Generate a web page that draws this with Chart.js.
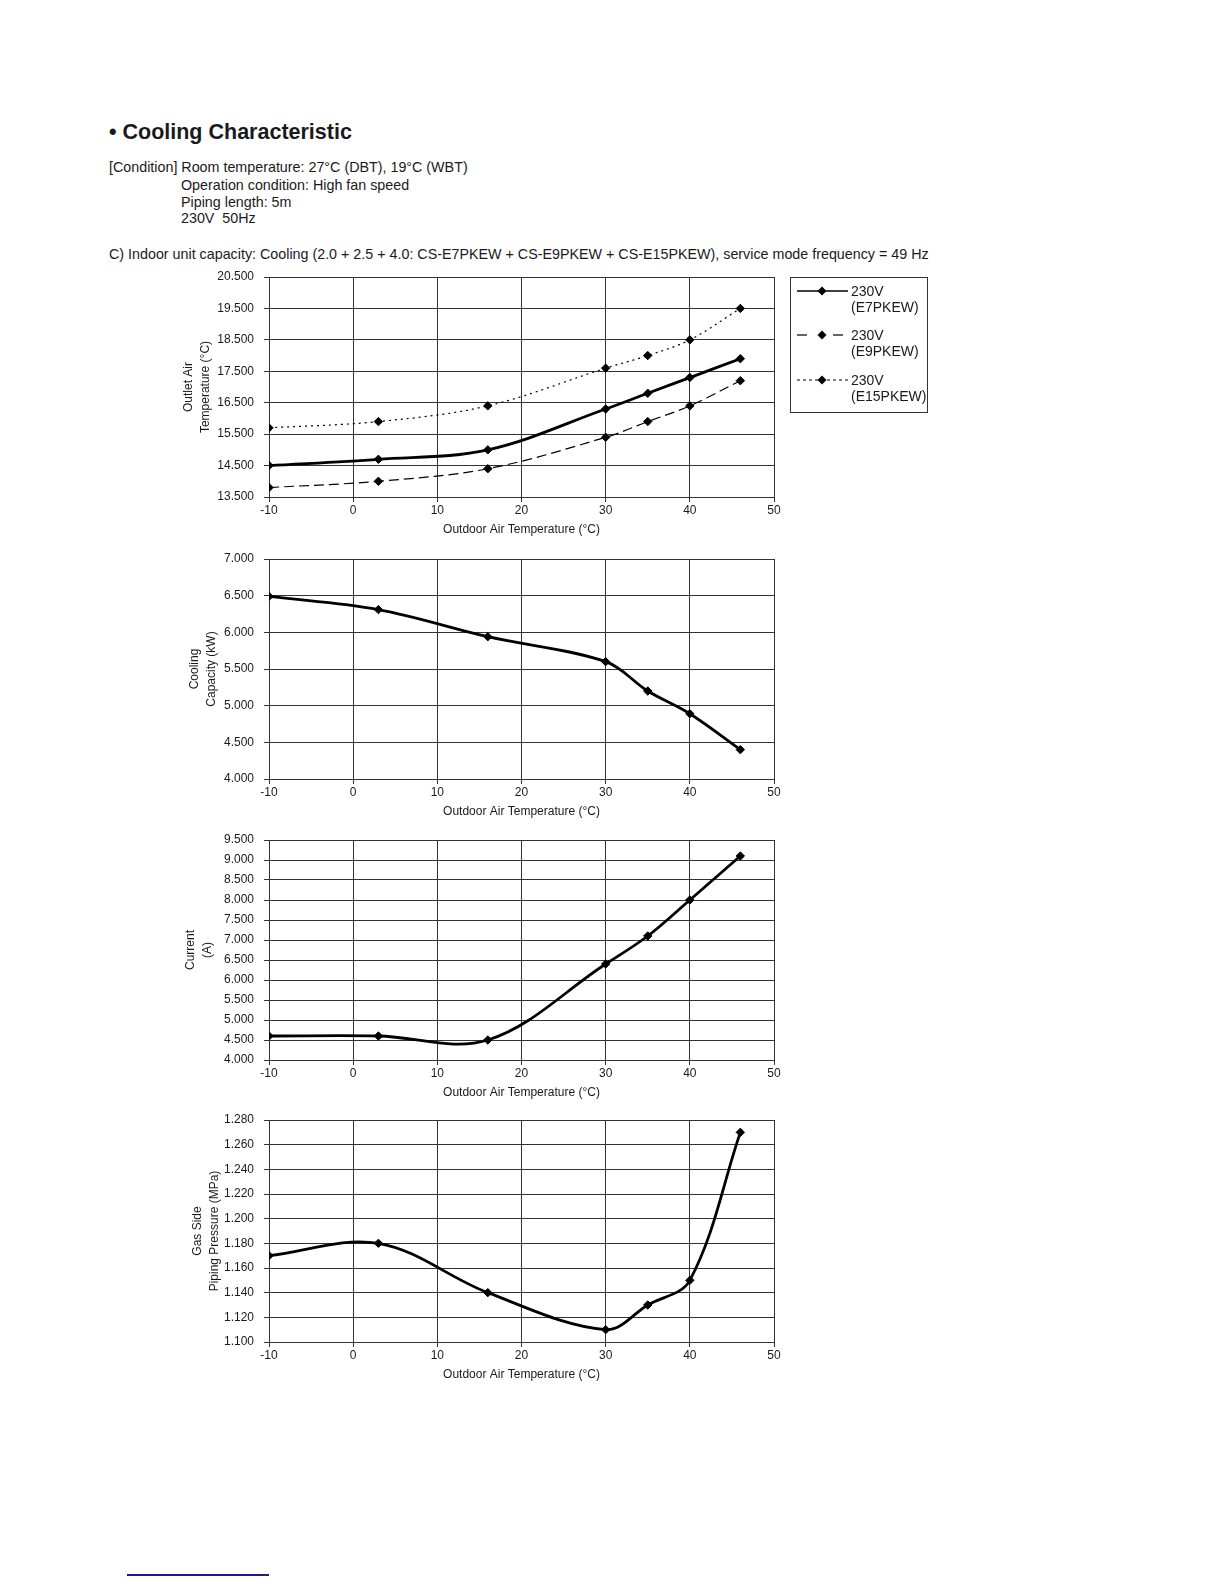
<!DOCTYPE html>
<html>
<head>
<meta charset="utf-8">
<script src="https://cdn.jsdelivr.net/npm/chart.js@4.4.1/dist/chart.umd.min.js"></script>
<style>
html,body{margin:0;padding:0;background:#fff;}
body{width:1224px;height:1584px;position:relative;overflow:hidden;font-family:"Liberation Sans",Arial,Helvetica,sans-serif;color:#1a1a1a;}
.t{position:absolute;white-space:nowrap;}
canvas{position:absolute;}
</style>
</head>
<body>
<div class="t" style="left:109px;top:119px;font-size:21.5px;font-weight:bold;line-height:26px;">• Cooling Characteristic</div>
<div class="t" style="left:109px;top:157.5px;font-size:14.3px;line-height:18px;">[Condition] Room temperature: 27°C (DBT), 19°C (WBT)</div>
<div class="t" style="left:181px;top:175.5px;font-size:14.3px;line-height:18px;">Operation condition: High fan speed</div>
<div class="t" style="left:181px;top:193px;font-size:14.3px;line-height:18px;">Piping length: 5m</div>
<div class="t" style="left:181px;top:209px;font-size:14.3px;line-height:18px;">230V&nbsp;&nbsp;50Hz</div>
<div class="t" style="left:109px;top:244.5px;font-size:14.3px;line-height:18px;">C) Indoor unit capacity: Cooling (2.0 + 2.5 + 4.0: CS-E7PKEW + CS-E9PKEW + CS-E15PKEW), service mode frequency = 49 Hz</div>

<canvas id="c1" width="630" height="275" style="left:160px;top:267px;"></canvas>
<canvas id="c2" width="630" height="275" style="left:160px;top:549px;"></canvas>
<canvas id="c3" width="630" height="275" style="left:160px;top:830px;"></canvas>
<canvas id="c4" width="630" height="277" style="left:160px;top:1110px;"></canvas>

<div style="position:absolute;left:790px;top:277px;width:136px;height:134px;border:1px solid #333;"></div>
<svg style="position:absolute;left:0;top:0;" width="1224" height="420">
  <g stroke="#000" fill="#000">
    <line x1="797" y1="291" x2="848" y2="291" stroke-width="1.5"/>
    <polygon points="822,286.5 826.5,291 822,295.5 817.5,291" stroke="none"/>
    <line x1="797" y1="335" x2="807" y2="335" stroke-width="1.2"/>
    <line x1="833" y1="335" x2="843" y2="335" stroke-width="1.2"/>
    <polygon points="822,330.5 826.5,335 822,339.5 817.5,335" stroke="none"/>
    <line x1="797" y1="380" x2="849" y2="380" stroke-width="1.2" stroke-dasharray="3,3"/>
    <polygon points="822,375.5 826.5,380 822,384.5 817.5,380" stroke="none"/>
  </g>
</svg>
<div class="t" style="left:851px;top:283px;font-size:14px;line-height:16px;">230V</div>
<div class="t" style="left:851px;top:299px;font-size:14px;line-height:16px;">(E7PKEW)</div>
<div class="t" style="left:851px;top:327px;font-size:14px;line-height:16px;">230V</div>
<div class="t" style="left:851px;top:343px;font-size:14px;line-height:16px;">(E9PKEW)</div>
<div class="t" style="left:851px;top:372px;font-size:14px;line-height:16px;">230V</div>
<div class="t" style="left:851px;top:388px;font-size:14px;line-height:16px;">(E15PKEW)</div>

<div style="position:absolute;left:127px;top:1574px;width:142px;height:2px;background:#1c1c8a;"></div>

<script>
// ---- data ----
const outdoorTemps = [-10, 3, 16, 30, 35, 40, 46];
const outletE7  = [14.5, 14.7, 15.0, 16.3, 16.8, 17.3, 17.9];
const outletE9  = [13.8, 14.0, 14.4, 15.4, 15.9, 16.4, 17.2];
const outletE15 = [15.7, 15.9, 16.4, 17.6, 18.0, 18.5, 19.5];
const capacityKW = [6.49, 6.31, 5.94, 5.60, 5.20, 4.89, 4.40];
const currentA   = [4.6, 4.6, 4.5, 6.4, 7.1, 8.0, 9.1];
const pressureMPa = [1.170, 1.180, 1.140, 1.110, 1.130, 1.150, 1.270];

const xTicks = [-10, 0, 10, 20, 30, 40, 50];
const outletTicks = [13.5, 14.5, 15.5, 16.5, 17.5, 18.5, 19.5, 20.5];
const capacityTicks = [4.0, 4.5, 5.0, 5.5, 6.0, 6.5, 7.0];
const currentTicks = [4.0, 4.5, 5.0, 5.5, 6.0, 6.5, 7.0, 7.5, 8.0, 8.5, 9.0, 9.5];
const pressureTicks = [1.10, 1.12, 1.14, 1.16, 1.18, 1.20, 1.22, 1.24, 1.26, 1.28];

const seriesNames = ['230V (E7PKEW)', '230V (E9PKEW)', '230V (E15PKEW)'];
const xTitle = 'Outdoor Air Temperature (°C)';

// ---- rendering ----
const FONT = '"Liberation Sans", Arial, Helvetica, sans-serif';
const GRID = '#333333';
const TXT = '#1a1a1a';

function pts(ys) { return outdoorTemps.map((x, i) => ({x: x, y: ys[i]})); }

function ds(label, ys, opts) {
  return Object.assign({
    label: label,
    data: pts(ys),
    borderColor: '#000',
    backgroundColor: '#000',
    borderWidth: 2.8,
    pointStyle: 'rectRot',
    pointRadius: 4.2,
    pointBorderWidth: 1,
    pointBackgroundColor: '#000',
    pointBorderColor: '#000',
    tension: 0.35,
    fill: false
  }, opts || {});
}

function makeChart(id, datasets, yTicks, yTitle, yTitlePad) {
  const ymin = yTicks[0], ymax = yTicks[yTicks.length - 1];
  return new Chart(document.getElementById(id), {
    type: 'line',
    data: { datasets: datasets },
    options: {
      responsive: false,
      animation: false,
      layout: { padding: { top: 10, right: 16, bottom: 0, left: 0 } },
      plugins: { legend: { display: false }, tooltip: { enabled: false } },
      scales: {
        x: {
          type: 'linear', min: xTicks[0], max: xTicks[xTicks.length - 1],
          afterBuildTicks: s => { s.ticks = xTicks.map(v => ({ value: v })); },
          afterFit: s => { s.height = 45; s.paddingLeft = 0; s.paddingRight = 0; },
          grid: { color: GRID, lineWidth: 1, tickLength: 5, drawTicks: true },
          border: { color: GRID, width: 1 },
          ticks: { font: { family: FONT, size: 12 }, color: TXT, padding: 1, maxRotation: 0, autoSkip: false,
                   callback: v => String(v) },
          title: { display: true, text: xTitle, color: TXT,
                   font: { family: FONT, size: 12, lineHeight: 1.4 }, padding: { top: 0, bottom: 3.8 } }
        },
        y: {
          type: 'linear', min: ymin, max: ymax,
          afterBuildTicks: s => { s.ticks = yTicks.map(v => ({ value: v })); },
          afterFit: s => { s.width = 109; s.paddingTop = 0; s.paddingBottom = 0; },
          grid: { color: GRID, lineWidth: 1, tickLength: 5, drawTicks: true },
          border: { color: GRID, width: 1 },
          ticks: { font: { family: FONT, size: 12 }, color: TXT, padding: 10, autoSkip: false,
                   callback: v => Number(v).toFixed(3) },
          title: { display: true, text: yTitle, color: TXT,
                   font: { family: FONT, size: 12, lineHeight: 1.4 }, padding: { top: yTitlePad, bottom: 0 } }
        }
      }
    }
  });
}

makeChart('c1', [
  ds(seriesNames[0], outletE7),
  ds(seriesNames[1], outletE9, { borderWidth: 1.2, borderDash: [10, 5] }),
  ds(seriesNames[2], outletE15, { borderWidth: 1.2, borderDash: [2, 4] })
], outletTicks, ['Outlet Air', 'Temperature (°C)'], 20);

makeChart('c2', [ds(seriesNames[0], capacityKW)], capacityTicks, ['Cooling', 'Capacity (kW)'], 26);
makeChart('c3', [ds(seriesNames[0], currentA)], currentTicks, ['Current', '(A)'], 22);
makeChart('c4', [ds(seriesNames[0], pressureMPa)], pressureTicks, ['Gas Side', 'Piping Pressure (MPa)'], 29);
</script>
</body>
</html>
